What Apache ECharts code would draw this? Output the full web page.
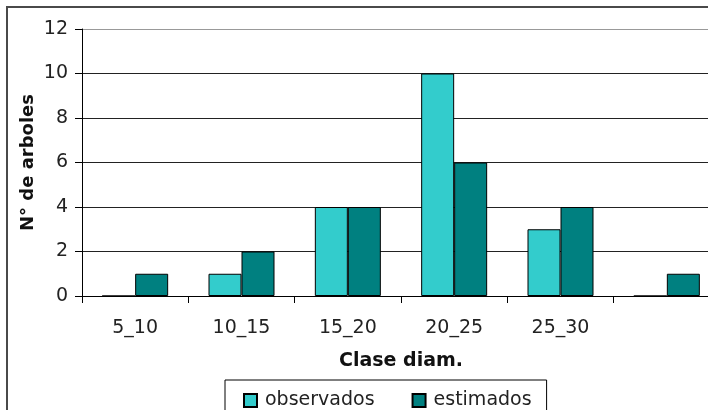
<!DOCTYPE html>
<html>
<head>
<meta charset="utf-8">
<script src="https://cdn.jsdelivr.net/npm/echarts@6/dist/echarts.min.js"></script>
<style>
  html, body { margin: 0; padding: 0; background: #fff; overflow: hidden; width: 708px; height: 410px; }
  /* the chart canvas is a little wider than the frame, so its right edge is cut off */
  #chart { width: 720px; height: 410px; }
</style>
</head>
<body>
<div id="chart"></div>
<script>
// Diameter classes and tree counts per class
const categories = ['5_10', '10_15', '15_20', '20_25', '25_30', ''];
const observados = [0, 1, 4, 10, 3, 0];
const estimados = [1, 2, 4, 6, 4, 1];
const yTicks = { min: 0, max: 12, interval: 2 };

const FONT = 'DejaVu Sans';
const chart = echarts.init(document.getElementById('chart'), null, { renderer: 'canvas' });

chart.setOption({
  animation: false,
  backgroundColor: '#fff',
  graphic: [{
    type: 'rect',
    z: -10,
    shape: { x: 7, y: 7, width: 900, height: 600 },
    style: { fill: 'none', stroke: '#4a4a4a', lineWidth: 2 }
  }],
  grid: { left: 82, top: 29, right: 0, bottom: 114, containLabel: false },
  xAxis: {
    type: 'category',
    data: categories,
    boundaryGap: true,
    name: 'Clase diam.',
    nameLocation: 'middle',
    nameGap: 56,
    nameMoveOverlap: false,
    nameTextStyle: { fontFamily: FONT, fontSize: 19, fontWeight: 'bold', color: '#111' },
    axisLine: { lineStyle: { color: '#000', width: 1 } },
    axisTick: { show: true, length: 7, inside: false, lineStyle: { color: '#000' } },
    axisLabel: { margin: 23, fontFamily: FONT, fontSize: 19, color: '#222' },
    splitLine: { show: false }
  },
  yAxis: {
    type: 'value',
    min: yTicks.min,
    max: yTicks.max,
    interval: yTicks.interval,
    name: 'N° de arboles',
    nameLocation: 'middle',
    nameGap: 45,
    nameMoveOverlap: false,
    nameRotate: 90,
    nameTextStyle: { fontFamily: FONT, fontSize: 18, fontWeight: 'bold', color: '#111' },
    axisLine: { show: true, lineStyle: { color: '#000', width: 1 } },
    axisTick: { show: true, length: 7, lineStyle: { color: '#000' } },
    axisLabel: { margin: 14, fontFamily: FONT, fontSize: 19, color: '#222' },
    splitLine: {
      show: true,
      lineStyle: { color: ['#222', '#222', '#222', '#222', '#222', '#222', '#999'], width: 1 }
    }
  },
  legend: {
    left: 225,
    top: 380,
    orient: 'horizontal',
    itemWidth: 13,
    itemHeight: 13,
    itemGap: 37,
    icon: 'rect',
    padding: [11, 15, 30, 18],
    borderColor: '#000',
    borderWidth: 1,
    textStyle: { fontFamily: FONT, fontSize: 19, color: '#222', padding: [0, 0, 0, 3] },
    data: ['observados', 'estimados']
  },
  series: [
    {
      name: 'observados',
      type: 'bar',
      data: observados,
      barWidth: 33,
      barGap: '0%',
      itemStyle: { color: '#33CCCC', borderColor: '#000', borderWidth: 1 }
    },
    {
      name: 'estimados',
      type: 'bar',
      data: estimados,
      barWidth: 33,
      barGap: '0%',
      itemStyle: { color: '#008080', borderColor: '#000', borderWidth: 1 }
    }
  ]
});
</script>
</body>
</html>
